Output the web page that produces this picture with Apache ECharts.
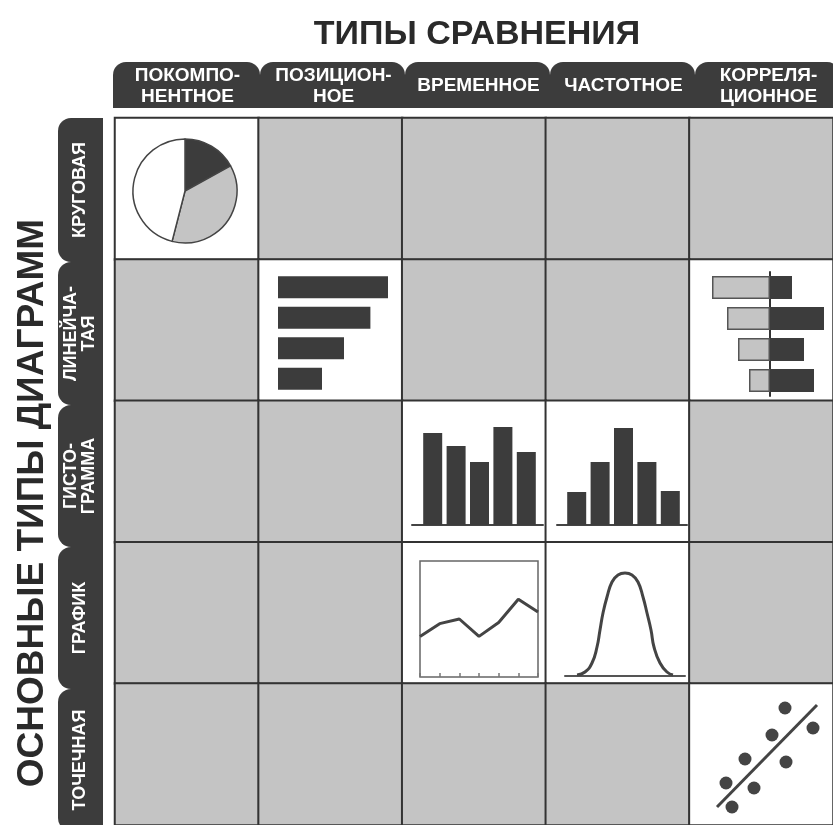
<!DOCTYPE html>
<html>
<head>
<meta charset="utf-8">
<script src="https://cdn.jsdelivr.net/npm/echarts@6/dist/echarts.min.js"></script>
<style>
html,body{margin:0;padding:0;background:#fff;}
#chart{width:833px;height:825px;}
</style>
</head>
<body>
<div id="chart"></div>
<script>
// ---------- DATA ----------
const mainTitle = 'ТИПЫ СРАВНЕНИЯ';
const sideTitle = 'ОСНОВНЫЕ ТИПЫ ДИАГРАММ';
const columnLabels = ['ПОКОМПО-\nНЕНТНОЕ', 'ПОЗИЦИОН-\nНОЕ', 'ВРЕМЕННОЕ', 'ЧАСТОТНОЕ', 'КОРРЕЛЯ-\nЦИОННОЕ'];
const rowLabels = ['КРУГОВАЯ', 'ЛИНЕЙЧА-\nТАЯ', 'ГИСТО-\nГРАММА', 'ГРАФИК', 'ТОЧЕЧНАЯ'];
// 1 = cell holds an example chart (white), 0 = empty (grey)
const cellFilled = [
  [1, 0, 0, 0, 0],
  [0, 1, 0, 0, 1],
  [0, 0, 1, 1, 0],
  [0, 0, 1, 1, 0],
  [0, 0, 0, 0, 1]
];
const pieValues = [17, 37, 46];
const barCats = ['a', 'b', 'c', 'd'];
const barValues = [100, 84, 60, 40];
const devLeft = [-58, -43, -32, -21];
const devRight = [22, 54, 34, 44];
const histCats = ['1', '2', '3', '4', '5'];
const histTime = [92, 79, 63, 98, 73];
const histFreq = [33, 63, 97, 63, 34];
const lineCats = ['1', '2', '3', '4', '5', '6', '7'];
const lineValues = [35, 46, 50, 35, 47, 67, 56];
const bellPoints = [[12,1],[20,4],[27,13],[32,29],[35,46],[38,63],[42,79],[47,94],[53,101],[60,103],[67,101],[73,94],[78,79],[82,63],[86,46],[89,29],[95,13],[102,4],[108,1]];
const scatterPoints = [[85,107],[113,87],[72,80],[45,56],[86,53],[26,32],[54,27],[32,8]];
const trendLine = [[17,8],[117,110]];

// ---------- STYLE ----------
const DARK = '#3c3c3c';
const GREY = '#c4c4c4';
const FONT = '"Liberation Sans", Arial, sans-serif';

const heatData = [];
cellFilled.forEach((row, r) => row.forEach((v, c) => heatData.push([c, r, v])));

// ---------- GRAPHIC (tabs and titles) ----------
const graphics = [];
graphics.push({
  type: 'text', x: 477, y: 35,
  style: { text: mainTitle, font: 'bold 34px ' + FONT, fill: '#2a2a2a', textAlign: 'center', textVerticalAlign: 'middle' }
});
graphics.push({
  type: 'text', x: 33, y: 503, rotation: Math.PI / 2,
  style: { text: sideTitle, font: 'bold 37px ' + FONT, fill: '#2a2a2a', textAlign: 'center', textVerticalAlign: 'middle' }
});
const colX = [113, 260, 405, 550, 695, 840];
columnLabels.forEach((lab, i) => {
  const x0 = colX[i], x1 = colX[i + 1];
  graphics.push({ type: 'rect', shape: { x: x0, y: 62, width: x1 - x0, height: 46, r: [13, 13, 0, 0] }, style: { fill: DARK } });
  graphics.push({
    type: 'text', x: (x0 + x1) / 2 + 1, y: 86,
    style: { text: lab, font: 'bold 19px ' + FONT, fill: '#fff', textAlign: 'center', textVerticalAlign: 'middle', lineHeight: 21 }
  });
});
const rowY = [118, 262, 405, 547, 689, 831];
rowLabels.forEach((lab, j) => {
  const y0 = rowY[j], y1 = rowY[j + 1];
  graphics.push({ type: 'rect', shape: { x: 58, y: y0, width: 45, height: y1 - y0, r: [13, 0, 0, 13] }, style: { fill: DARK } });
  graphics.push({
    type: 'text', x: 80, y: (y0 + y1) / 2, rotation: Math.PI / 2,
    style: { text: lab, font: 'bold 18px ' + FONT, fill: '#fff', textAlign: 'center', textVerticalAlign: 'middle', lineHeight: 18 }
  });
});

// ---------- OPTION ----------
const option = {
  animation: false,
  backgroundColor: '#fff',
  graphic: graphics,
  visualMap: {
    show: false, type: 'piecewise', seriesIndex: 0, dimension: 2,
    pieces: [{ value: 0, color: GREY }, { value: 1, color: '#ffffff' }]
  },
  grid: [
    { left: 115, top: 118, width: 725, height: 713 },   // 0 matrix
    { left: 278, top: 272, width: 110, height: 122 },   // 1 bars
    { left: 710, top: 272, width: 120, height: 124 },   // 2 deviation bars
    { left: 421, top: 425, width: 117, height: 100 },   // 3 histogram time
    { left: 565, top: 425, width: 117, height: 100 },   // 4 histogram freq
    { left: 420, top: 561, width: 118, height: 116, show: true, borderColor: '#666', borderWidth: 1.5, backgroundColor: 'transparent' }, // 5 line
    { left: 565, top: 566, width: 120, height: 110 },   // 6 bell
    { left: 700, top: 700, width: 130, height: 115 },   // 7 scatter
    { left: 412, top: 425, width: 131, height: 100 },   // 8 baseline time
    { left: 557, top: 425, width: 130, height: 100 }    // 9 baseline freq
  ],
  xAxis: [
    { gridIndex: 0, type: 'category', data: columnLabels, show: false },
    { gridIndex: 1, type: 'value', min: 0, max: 100, show: false },
    { gridIndex: 2, type: 'value', min: -60, max: 60, show: false },
    { gridIndex: 3, type: 'category', data: histCats, show: false },
    { gridIndex: 4, type: 'category', data: histCats, show: false },
    { gridIndex: 5, type: 'category', data: lineCats, boundaryGap: false,
      axisLine: { show: false }, axisLabel: { show: false },
      axisTick: { show: true, inside: true, length: 4, lineStyle: { color: '#777', width: 1.5 } } },
    { gridIndex: 6, type: 'value', min: 0, max: 120, axisLabel: { show: false }, axisTick: { show: false }, splitLine: { show: false },
      axisLine: { show: true, lineStyle: { color: '#555', width: 2 } } },
    { gridIndex: 7, type: 'value', min: 0, max: 130, show: false },
    { gridIndex: 8, type: 'value', min: 0, max: 1, axisLabel: { show: false }, axisTick: { show: false }, splitLine: { show: false },
      axisLine: { show: true, lineStyle: { color: '#444', width: 2 } } },
    { gridIndex: 9, type: 'value', min: 0, max: 1, axisLabel: { show: false }, axisTick: { show: false }, splitLine: { show: false },
      axisLine: { show: true, lineStyle: { color: '#444', width: 2 } } }
  ],
  yAxis: [
    { gridIndex: 0, type: 'category', data: rowLabels, inverse: true, show: false },
    { gridIndex: 1, type: 'category', data: barCats, inverse: true, show: false },
    { gridIndex: 2, type: 'category', data: barCats, inverse: true, axisLabel: { show: false }, axisTick: { show: false },
      axisLine: { show: true, onZero: true, lineStyle: { color: '#333', width: 2 } } },
    { gridIndex: 3, type: 'value', min: 0, max: 100, show: false },
    { gridIndex: 4, type: 'value', min: 0, max: 100, show: false },
    { gridIndex: 5, type: 'value', min: 0, max: 100, show: false },
    { gridIndex: 6, type: 'value', min: 0, max: 110, show: false },
    { gridIndex: 7, type: 'value', min: 0, max: 115, show: false },
    { gridIndex: 8, type: 'value', min: 0, max: 1, show: false },
    { gridIndex: 9, type: 'value', min: 0, max: 1, show: false }
  ],
  series: [
    { type: 'heatmap', z: -1, xAxisIndex: 0, yAxisIndex: 0, data: heatData,
      itemStyle: { borderColor: '#333', borderWidth: 2 }, emphasis: { disabled: true } },
    { type: 'pie', center: [185, 191], radius: 52, startAngle: 90, clockwise: true,
      label: { show: false }, labelLine: { show: false },
      color: [DARK, GREY, '#ffffff'],
      itemStyle: { borderColor: '#444', borderWidth: 1.5 },
      data: pieValues.map(v => ({ value: v })) },
    { type: 'bar', xAxisIndex: 1, yAxisIndex: 1, data: barValues, barWidth: 22, itemStyle: { color: DARK } },
    { type: 'bar', xAxisIndex: 2, yAxisIndex: 2, data: devLeft, stack: 'dev', barWidth: 23,
      itemStyle: { color: GREY, borderColor: '#555', borderWidth: 1.5 } },
    { type: 'bar', xAxisIndex: 2, yAxisIndex: 2, data: devRight, stack: 'dev', barWidth: 23,
      itemStyle: { color: DARK } },
    { type: 'bar', xAxisIndex: 3, yAxisIndex: 3, data: histTime, barWidth: 19, itemStyle: { color: DARK } },
    { type: 'bar', xAxisIndex: 4, yAxisIndex: 4, data: histFreq, barWidth: 19, itemStyle: { color: DARK } },
    { type: 'line', xAxisIndex: 5, yAxisIndex: 5, data: lineValues, symbol: 'none',
      lineStyle: { color: '#444', width: 3 } },
    { type: 'line', xAxisIndex: 6, yAxisIndex: 6, data: bellPoints, symbol: 'none', smooth: true,
      lineStyle: { color: '#444', width: 3 } },
    { type: 'line', xAxisIndex: 7, yAxisIndex: 7, data: trendLine, symbol: 'none',
      lineStyle: { color: '#444', width: 3 } },
    { type: 'scatter', xAxisIndex: 7, yAxisIndex: 7, data: scatterPoints, symbolSize: 13,
      itemStyle: { color: '#444', opacity: 1 } }
  ]
};

const chart = echarts.init(document.getElementById('chart'), null, { renderer: 'canvas' });
chart.setOption(option);
</script>
</body>
</html>
